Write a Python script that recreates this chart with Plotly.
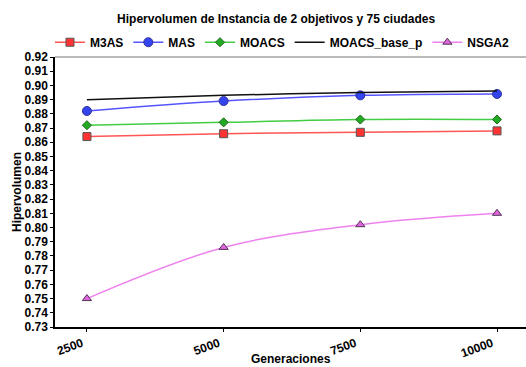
import plotly.graph_objects as go

generaciones = [2500, 5000, 7500, 10000]
m3as = [0.864, 0.866, 0.867, 0.868]
mas = [0.882, 0.889, 0.893, 0.894]
moacs = [0.872, 0.874, 0.876, 0.876]
moacs_base_p = [0.890, 0.893, 0.895, 0.896]
nsga2 = [0.750, 0.786, 0.802, 0.810]
y_ticks = [round(0.73 + 0.01 * i, 2) for i in range(20)]

FONT = "Liberation Sans, Arial, sans-serif"

series = [
    ("M3AS", m3as, "#ff5555", dict(symbol="square", size=8, color="#ff3333", line=dict(color="#555555", width=1))),
    ("MAS", mas, "#5555ff", dict(symbol="circle", size=9, color="#3344ee", line=dict(color="#333399", width=1))),
    ("MOACS", moacs, "#44cc44", dict(symbol="diamond", size=7, color="#22aa22", line=dict(color="#226622", width=1))),
    ("MOACS_base_p", moacs_base_p, "#111111", None),
    ("NSGA2", nsga2, "#ee82ee", dict(symbol="triangle-up", size=8, color="#dd66dd", line=dict(color="#553355", width=1))),
]

fig = go.Figure()
for name, vals, col, mk in series:
    if mk is None:
        fig.add_trace(go.Scatter(x=generaciones, y=vals, name=name, mode="lines",
                                 line=dict(color=col, width=1.5, shape="spline")))
    else:
        fig.add_trace(go.Scatter(x=generaciones, y=vals, name=name, mode="lines+markers",
                                 line=dict(color=col, width=1.5, shape="spline"), marker=mk))

fig.update_layout(
    width=526, height=367,
    margin=dict(l=55, r=0, t=57, b=40, autoexpand=False),
    paper_bgcolor="white", plot_bgcolor="white",
    font=dict(family=FONT, size=12, color="black"),
    title=dict(text="Hipervolumen de Instancia de 2 objetivos y 75 ciudades",
               x=0.525, xanchor="center", y=0.95, yanchor="middle",
               font=dict(family=FONT, size=12, color="black", weight=700)),
    legend=dict(orientation="h", xref="container", x=0.095, xanchor="left",
                yref="container", y=0.885, yanchor="middle",
                font=dict(family=FONT, size=12, color="black", weight=700),
                itemwidth=30, bgcolor="rgba(0,0,0,0)"),
    showlegend=True,
)

fig.update_xaxes(
    range=[1916, 10530], tickvals=generaciones, ticktext=[str(g) for g in generaciones],
    tickangle=-20, showgrid=False, zeroline=False, automargin=False,
    showline=True, linecolor="black", linewidth=2,
    ticks="outside", ticklen=3, tickcolor="black",
    ticklabelshift=-5,
    tickfont=dict(family=FONT, size=12, color="black", weight=700),
)
fig.update_yaxes(
    range=[0.73, 0.92], tickvals=y_ticks, ticktext=[f"{v:.2f}" for v in y_ticks],
    showgrid=False, zeroline=False, automargin=False,
    showline=True, linecolor="black", linewidth=1.5,
    ticks="outside", ticklen=3, tickcolor="black",
    tickfont=dict(family=FONT, size=12, color="black", weight=700),
    title=dict(text="Hipervolumen", standoff=0,
               font=dict(family=FONT, size=12, color="black", weight=700)),
)

fig.add_annotation(text="Generaciones", xref="paper", yref="paper", x=0.5, y=-0.088,
                   xanchor="center", yanchor="top", showarrow=False, borderpad=0,
                   font=dict(family=FONT, size=12, color="black", weight=700))

fig.add_shape(type="line", xref="paper", yref="paper", x0=0, x1=1, y0=1, y1=1,
              line=dict(color="#777777", width=1))

fig.write_html("out.html")
